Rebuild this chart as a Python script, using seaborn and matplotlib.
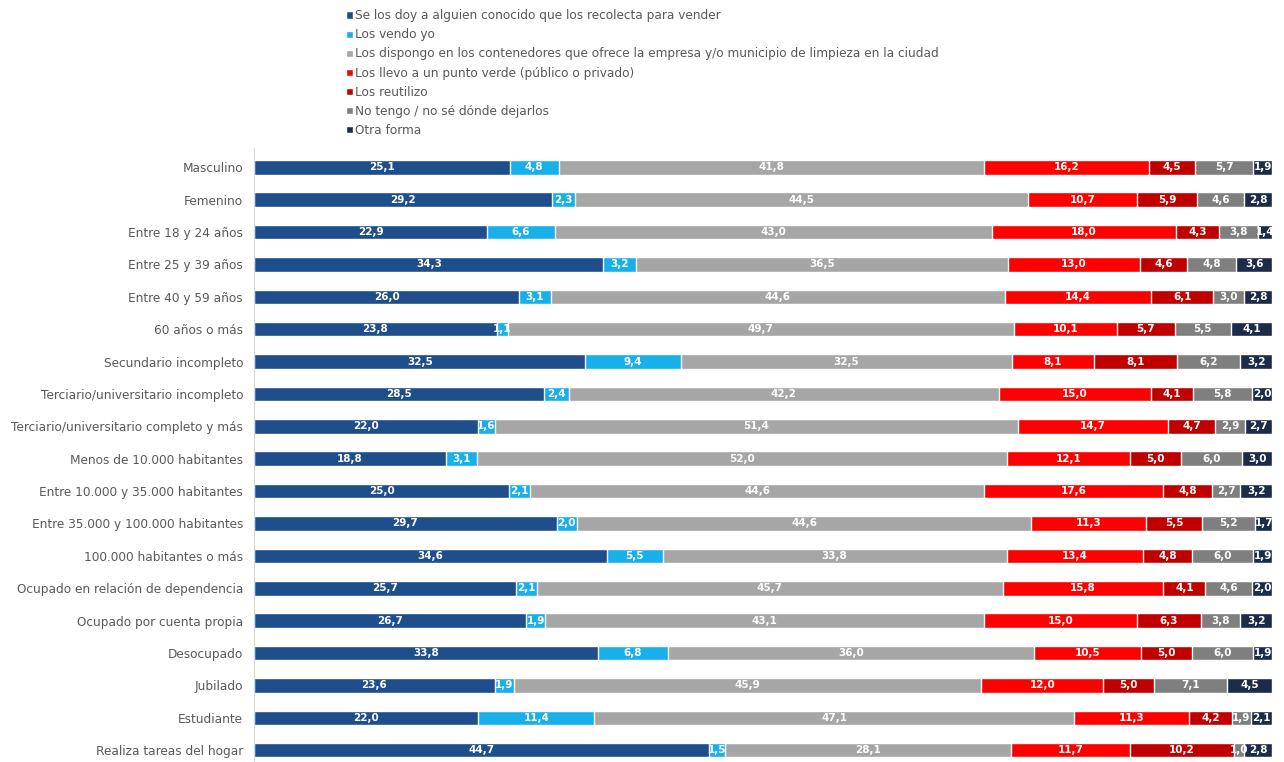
import seaborn as sns
import matplotlib.pyplot as plt
import pandas as pd
import numpy as np

sns.set_style("white")
plt.rcParams['font.family'] = ['DejaVu Sans']

categorias = [
    "Masculino", "Femenino", "Entre 18 y 24 años", "Entre 25 y 39 años",
    "Entre 40 y 59 años", "60 años o más", "Secundario incompleto",
    "Terciario/universitario incompleto", "Terciario/universitario completo y más",
    "Menos de 10.000 habitantes", "Entre 10.000 y 35.000 habitantes",
    "Entre 35.000 y 100.000 habitantes", "100.000 habitantes o más",
    "Ocupado en relación de dependencia", "Ocupado por cuenta propia",
    "Desocupado", "Jubilado", "Estudiante", "Realiza tareas del hogar",
]

series = [
    "Se los doy a alguien conocido que los recolecta para vender",
    "Los vendo yo",
    "Los dispongo en los contenedores que ofrece la empresa y/o municipio de limpieza en la ciudad",
    "Los llevo a un punto verde (público o privado)",
    "Los reutilizo",
    "No tengo / no sé dónde dejarlos",
    "Otra forma",
]

conocido = [25.1, 29.2, 22.9, 34.3, 26.0, 23.8, 32.5, 28.5, 22.0, 18.8, 25.0, 29.7, 34.6, 25.7, 26.7, 33.8, 23.6, 22.0, 44.7]
vendo = [4.8, 2.3, 6.6, 3.2, 3.1, 1.1, 9.4, 2.4, 1.6, 3.1, 2.1, 2.0, 5.5, 2.1, 1.9, 6.8, 1.9, 11.4, 1.5]
contenedores = [41.8, 44.5, 43.0, 36.5, 44.6, 49.7, 32.5, 42.2, 51.4, 52.0, 44.6, 44.6, 33.8, 45.7, 43.1, 36.0, 45.9, 47.1, 28.1]
punto_verde = [16.2, 10.7, 18.0, 13.0, 14.4, 10.1, 8.1, 15.0, 14.7, 12.1, 17.6, 11.3, 13.4, 15.8, 15.0, 10.5, 12.0, 11.3, 11.7]
reutilizo = [4.5, 5.9, 4.3, 4.6, 6.1, 5.7, 8.1, 4.1, 4.7, 5.0, 4.8, 5.5, 4.8, 4.1, 6.3, 5.0, 5.0, 4.2, 10.2]
no_tengo = [5.7, 4.6, 3.8, 4.8, 3.0, 5.5, 6.2, 5.8, 2.9, 6.0, 2.7, 5.2, 6.0, 4.6, 3.8, 6.0, 7.1, 1.9, 1.0]
otra = [1.9, 2.8, 1.4, 3.6, 2.8, 4.1, 3.2, 2.0, 2.7, 3.0, 3.2, 1.7, 1.9, 2.0, 3.2, 1.9, 4.5, 2.1, 2.8]

colores = ["#1f4e8c", "#17b0ea", "#a6a6a6", "#fe0000", "#c00000", "#7f7f7f", "#1c2b47"]

valores = [conocido, vendo, contenedores, punto_verde, reutilizo, no_tengo, otra]
df = pd.DataFrame({s: v for s, v in zip(series, valores)}, index=categorias)
acumulado = df.cumsum(axis=1)

fig = plt.figure(figsize=(12.84, 7.62), dpi=100)
ax = fig.add_axes([0.198, -0.01, 0.793, 0.816])

# dibujar de la serie final hacia la primera para apilar
for s, c in reversed(list(zip(series, colores))):
    sns.barplot(x=acumulado[s].values, y=categorias, color=c, orient="h",
                width=0.45, ax=ax, label=s, saturation=1)

# etiquetas de valores
for i, cat in enumerate(categorias):
    inicio = 0
    for s in series:
        v = df.loc[cat, s]
        ax.text(inicio + v / 2, i, f"{v:.1f}".replace(".", ","), ha="center",
                va="center", color="white", fontsize=7.5, fontweight="bold")
        inicio += v

ax.set_xlim(0, 100)
ax.set_ylim(18.6, -0.6)
ax.set_xlabel("")
ax.set_ylabel("")
ax.set_xticks([])
ax.tick_params(axis="y", length=0, labelsize=8.7, labelcolor="#595959", pad=8)
for lado in ["top", "right", "bottom"]:
    ax.spines[lado].set_visible(False)
ax.spines["left"].set_color("#d9d9d9")
ax.spines["left"].set_linewidth(0.8)

handles, labels = ax.get_legend_handles_labels()
orden = [labels.index(s) for s in series]
if ax.get_legend():
    ax.get_legend().remove()
fig.legend([handles[k] for k in orden], series, loc="upper left",
           bbox_to_anchor=(0.266, 0.994), frameon=False, fontsize=8.7,
           handlelength=0.55, handleheight=0.55, handletextpad=0.2,
           labelspacing=0.5, labelcolor="#595959", borderaxespad=0)

fig.savefig("out.png", dpi=100)
